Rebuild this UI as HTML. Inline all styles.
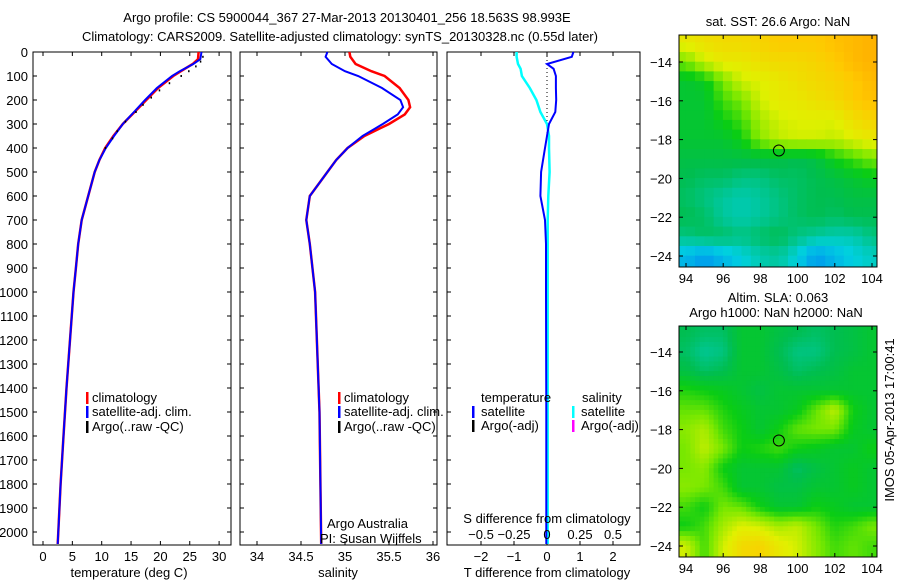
<!DOCTYPE html>
<html><head><meta charset="utf-8"><style>
body{margin:0;background:#fff;}
svg{display:block;font-family:"Liberation Sans",sans-serif;}
text{font-size:13px;fill:#000;}
</style></head><body>
<svg id="c" width="900" height="580" viewBox="0 0 900 580">
<text x="347" y="22" text-anchor="middle">Argo profile: CS 5900044_367 27-Mar-2013 20130401_256 18.563S 98.993E</text>
<text x="340" y="41" text-anchor="middle">Climatology: CARS2009. Satellite-adjusted climatology: synTS_20130328.nc (0.55d later)</text>
<g id="g"></g>
</svg>
<script>
// ---- data ----
const tDepth=[0,30,50,80,100,150,200,250,300,350,400,450,500,600,700,800,900,1000,1200,1400,1600,1800,2000,2050];
const tClim=[26.5,26.4,25.5,23.5,22.2,19.6,17.6,15.6,13.6,12.0,10.6,9.6,8.8,7.7,6.6,6.0,5.6,5.2,4.6,4.0,3.5,3.0,2.6,2.5];
const tSat=[27.0,26.8,25.6,23.3,22.0,19.4,17.4,15.5,13.6,12.1,10.7,9.6,8.8,7.7,6.6,6.0,5.6,5.2,4.6,4.0,3.5,3.0,2.6,2.5];
const argoDepth=[20,40,60,80,100,130,160,190,220,250,290,330,360,400];
const argoTemp=[27.2,26.8,26.0,24.8,23.5,21.5,19.8,18.4,17.0,15.8,14.0,12.6,11.8,10.6];
const sDepth=[0,20,50,80,100,150,200,230,260,300,350,400,450,500,600,700,800,1000,1500,2050];
const sClim=[35.05,35.06,35.12,35.3,35.45,35.62,35.72,35.74,35.68,35.5,35.22,35.03,34.9,34.8,34.6,34.56,34.6,34.66,34.71,34.73];
const sSat=[34.8,34.78,34.85,35.0,35.15,35.42,35.63,35.66,35.6,35.43,35.2,35.03,34.9,34.8,34.6,34.56,34.6,34.66,34.71,34.73];
const dDepth=[0,20,50,70,100,150,200,250,300,350,400,500,600,700,800,1000,1500,2050];
const dTemp=[0.8,0.75,0.0,0.2,0.27,0.27,0.28,0.25,0.06,0.0,-0.06,-0.18,-0.2,-0.06,-0.03,-0.03,-0.02,-0.02];
const dSal=[-0.23,-0.23,-0.22,-0.2,-0.19,-0.13,-0.08,-0.05,0.0,0.015,0.015,0.02,0.01,0.005,0.005,0.005,0.005,0.005];
const depthTicks=[0,100,200,300,400,500,600,700,800,900,1000,1100,1200,1300,1400,1500,1600,1700,1800,1900,2000];
const tTicks=[0,5,10,15,20,25,30];
const sTicks=[34,34.5,35,35.5,36];
const tdTicks=[-2,-1,0,1,2];
const sdTicks=['-0.5','-0.25','0','0.25','0.5'];
const lonTicks=[94,96,98,100,102,104];
const latTicks=[-14,-16,-18,-20,-22,-24];
const mapLons=[94,95,96,97,98,99,100,101,102,103,104];
const mapLats=[-13,-14,-15,-16,-17,-18,-19,-20,-21,-22,-23,-24];
const sst=[
[0.75,0.78,0.8,0.8,0.82,0.85,0.85,0.85,0.88,0.9,0.92],
[0.6,0.7,0.75,0.75,0.78,0.8,0.8,0.82,0.85,0.9,0.92],
[0.45,0.48,0.6,0.7,0.72,0.75,0.78,0.8,0.82,0.85,0.9],
[0.45,0.45,0.55,0.6,0.7,0.75,0.75,0.78,0.8,0.85,0.88],
[0.45,0.45,0.5,0.55,0.65,0.7,0.72,0.72,0.72,0.78,0.82],
[0.45,0.45,0.45,0.5,0.62,0.68,0.7,0.7,0.68,0.72,0.75],
[0.42,0.42,0.42,0.42,0.42,0.42,0.4,0.42,0.5,0.55,0.6],
[0.4,0.38,0.38,0.35,0.35,0.38,0.38,0.4,0.42,0.45,0.48],
[0.38,0.35,0.32,0.3,0.32,0.35,0.38,0.4,0.4,0.42,0.42],
[0.4,0.38,0.32,0.3,0.32,0.35,0.38,0.4,0.38,0.4,0.4],
[0.35,0.38,0.38,0.35,0.38,0.4,0.35,0.32,0.3,0.3,0.35],
[0.2,0.15,0.2,0.25,0.3,0.32,0.25,0.15,0.2,0.25,0.28]];
const sla=[
[0.4,0.38,0.38,0.45,0.45,0.42,0.4,0.38,0.4,0.42,0.45],
[0.38,0.33,0.35,0.45,0.45,0.4,0.35,0.35,0.4,0.42,0.45],
[0.42,0.38,0.4,0.45,0.45,0.42,0.38,0.4,0.42,0.45,0.45],
[0.52,0.5,0.48,0.45,0.42,0.45,0.45,0.45,0.45,0.45,0.45],
[0.58,0.58,0.52,0.48,0.45,0.45,0.48,0.58,0.68,0.5,0.45],
[0.62,0.66,0.55,0.5,0.45,0.5,0.58,0.6,0.6,0.48,0.45],
[0.6,0.68,0.6,0.5,0.52,0.55,0.5,0.48,0.45,0.45,0.5],
[0.6,0.62,0.5,0.45,0.45,0.45,0.38,0.42,0.45,0.48,0.45],
[0.62,0.6,0.55,0.45,0.45,0.42,0.42,0.45,0.45,0.48,0.45],
[0.55,0.5,0.6,0.58,0.5,0.45,0.45,0.5,0.48,0.45,0.45],
[0.5,0.55,0.65,0.72,0.7,0.65,0.68,0.6,0.52,0.55,0.6],
[0.7,0.55,0.7,0.8,0.82,0.75,0.7,0.62,0.55,0.58,0.55]];
const argoLon=98.993, argoLat=-18.563;

// ---- helpers ----
const NS='http://www.w3.org/2000/svg';
const G=document.getElementById('g');
function mk(tag,at,parent){const e=document.createElementNS(NS,tag);for(const k in at)e.setAttribute(k,at[k]);(parent||G).appendChild(e);return e;}
const PB=545;
const Y=d=>52+d*0.24;
const xT=v=>43+v*5.87;
const xS=v=>257+(v-34)*88;
const xTD=v=>547+v*33;
const xSD=v=>547+v*132;
function line(xs,ds,fx,col,w,name){
  const p=ds.map((d,i)=>fx(xs[i]).toFixed(1)+','+Y(d).toFixed(1)).join(' ');
  const e=mk('polyline',{points:p,fill:'none',stroke:col,'stroke-width':w});
  
  
}
function panel(x0,x1,name){
  const r=mk('rect',{x:x0,y:52,width:x1-x0,height:PB-52,fill:'none',stroke:'#000'});
  
  
  depthTicks.forEach(d=>{mk('line',{x1:x0,x2:x0+4,y1:Y(d),y2:Y(d),stroke:'#000'});mk('line',{x1:x1,x2:x1-4,y1:Y(d),y2:Y(d),stroke:'#000'});});
}
function txt(x,y,s,anchor,name){const t=mk('text',{x:x,y:y,'text-anchor':anchor||'start'});t.textContent=s;
  
  return t;}
function xticks(ticks,fx){ticks.forEach(v=>{mk('line',{x1:fx(v),x2:fx(v),y1:PB,y2:PB-4,stroke:'#000'});mk('line',{x1:fx(v),x2:fx(v),y1:52,y2:56,stroke:'#000'});});}

depthTicks.forEach(d=>txt(28,Y(d)+5,String(d),'end','depth-tick-label'));

// panel 1
panel(33,231,'temperature-panel');
xticks(tTicks,xT);
tTicks.forEach(v=>txt(xT(v),561,String(v),'middle','temperature-tick-label'));
line(tClim,tDepth,xT,'#f00',2.5,'temperature-climatology-line');
line(tSat,tDepth,xT,'#00f',2,'temperature-satellite-line');
argoDepth.forEach((d,i)=>{const r=mk('rect',{x:xT(argoTemp[i])-0.5,y:Y(d)-1,width:1.5,height:2,fill:'#000'});
  
  });
txt(129,577,'temperature (deg C)','middle','temperature-axis-title');
function legend(x,name){
  [['#f00','climatology',402],['#00f','satellite-adj. clim.',416],['#000','Argo(..raw -QC)',431]].forEach(([c,s,y])=>{
    mk('rect',{x:x,y:y-10,width:2.5,height:12,fill:c});txt(x+6,y,s,'start',name);});
}
legend(86,'temperature-legend-entry');

// panel 2
panel(240,437,'salinity-panel');
xticks(sTicks,xS);
sTicks.forEach(v=>txt(xS(v),561,String(v),'middle','salinity-tick-label'));
line(sClim,sDepth,xS,'#f00',2.5,'salinity-climatology-line');
line(sSat,sDepth,xS,'#00f',2,'salinity-satellite-line');
txt(338,577,'salinity','middle','salinity-axis-title');
legend(338,'salinity-legend-entry');
txt(327,528,'Argo Australia','start','institution-label');
txt(320,543,'PI: Susan Wijffels','start','pi-label');

// panel 3
panel(447,640,'difference-panel');
xticks(tdTicks,xTD);
mk('line',{x1:547,x2:547,y1:52,y2:140,stroke:'#000','stroke-dasharray':'1,3'});
line(dSal,dDepth,xSD,'#0ff',2.5,'salinity-difference-line');
line(dTemp,dDepth,xTD,'#00f',2,'temperature-difference-line');
txt(481,402,'temperature','start','diff-legend-header');
txt(582,402,'salinity','start','diff-legend-header');
[['#00f','satellite',416,472],['#000','Argo(-adj)',430,472],['#0ff','satellite',416,572],['#f0f','Argo(-adj)',430,572]].forEach(([c,s,y,x])=>{
  mk('rect',{x:x,y:y-10,width:2.5,height:12,fill:c});txt(x+9,y,s,'start','diff-legend-entry');});
txt(547,523,'S difference from climatology','middle','s-difference-axis-title');
sdTicks.forEach(s=>txt(xSD(parseFloat(s)),539,s.replace('-','\u2212'),'middle','s-difference-tick-label'));
tdTicks.forEach(v=>txt(xTD(v),561,String(v).replace('-','\u2212'),'middle','t-difference-tick-label'));
txt(547,577,'T difference from climatology','middle','t-difference-axis-title');

// maps
function cmap(v){
  const st=[[0,[0,80,255]],[0.25,[0,208,224]],[0.4,[0,190,80]],[0.5,[10,205,20]],[0.6,[120,232,0]],[0.72,[225,240,0]],[0.86,[255,200,0]],[1,[255,150,0]]];
  for(let i=1;i<st.length;i++){if(v<=st[i][0]){const a=st[i-1],b=st[i],t=(v-a[0])/(b[0]-a[0]);
    return 'rgb('+a[1].map((c,k)=>Math.round(c+(b[1][k]-c)*t)).join(',')+')';}}
  return 'rgb(255,150,0)';
}
function sample(vals,r,c){
  const R=vals.length-1,C=vals[0].length-1;
  r=Math.max(0,Math.min(R,r));c=Math.max(0,Math.min(C,c));
  const r0=Math.floor(r),c0=Math.floor(c),r1=Math.min(R,r0+1),c1=Math.min(C,c0+1),fr=r-r0,fc=c-c0;
  return vals[r0][c0]*(1-fr)*(1-fc)+vals[r0][c1]*(1-fr)*fc+vals[r1][c0]*fr*(1-fc)+vals[r1][c1]*fr*fc;
}
function map(y0,y1,latY0,vals,name,sub){
  const X0=679,X1=877;
  const lx=v=>686+(v-94)*18.6, ly=v=>latY0+(-14-v)*19.4;
  const clip='cl'+name;
  const cp=mk('clipPath',{id:clip});mk('rect',{x:X0,y:y0,width:X1-X0,height:y1-y0},cp);
  const g=mk('g',{'clip-path':'url(#'+clip+')'});
  
  
  const step=1/sub;
  for(let la=mapLats[0]+0.5;la>mapLats[mapLats.length-1]-0.5-1e-6;la-=step){
    for(let lo=mapLons[0]-0.5;lo<mapLons[mapLons.length-1]+0.5-1e-6;lo+=step){
      const r=(mapLats[0]-(la-step/2)),c=(lo+step/2-mapLons[0]);
      const v=sample(vals,r,c);
      const cell=mk('rect',{x:lx(lo)-0.3,y:ly(la)-0.3,width:18.6*step+0.6,height:19.4*step+0.6,fill:cmap(v)},g);
      
      
    }
  }
  const fr=mk('rect',{x:X0,y:y0,width:X1-X0,height:y1-y0,fill:'none',stroke:'#000'});
  
  
  lonTicks.forEach(v=>{mk('line',{x1:lx(v),x2:lx(v),y1:y1,y2:y1-4,stroke:'#000'});mk('line',{x1:lx(v),x2:lx(v),y1:y0,y2:y0+4,stroke:'#000'});txt(lx(v),y1+16,String(v),'middle',name+'-lon-label');});
  latTicks.forEach(v=>{mk('line',{x1:X0,x2:X0+4,y1:ly(v),y2:ly(v),stroke:'#000'});mk('line',{x1:X1,x2:X1-4,y1:ly(v),y2:ly(v),stroke:'#000'});txt(672,ly(v)+5,String(v).replace('-','\u2212'),'end',name+'-lat-label');});
  const c=mk('circle',{cx:lx(argoLon),cy:ly(argoLat),r:5.5,fill:'none',stroke:'#000','stroke-width':1});
  
  
}
map(35,267,62,sst,'sst-map',2);
txt(778,26,'sat. SST: 26.6 Argo: NaN','middle','sst-map-title');
map(326,557,352,sla,'sla-map',4);
txt(778,302,'Altim. SLA: 0.063','middle','sla-map-title');
txt(776,317,'Argo h1000: NaN h2000: NaN','middle','sla-map-subtitle');
const side=txt(0,0,'IMOS 05-Apr-2013 17:00:41','middle','imos-timestamp');
side.setAttribute('transform','translate(894,420) rotate(-90)');
</script>
</body></html>
